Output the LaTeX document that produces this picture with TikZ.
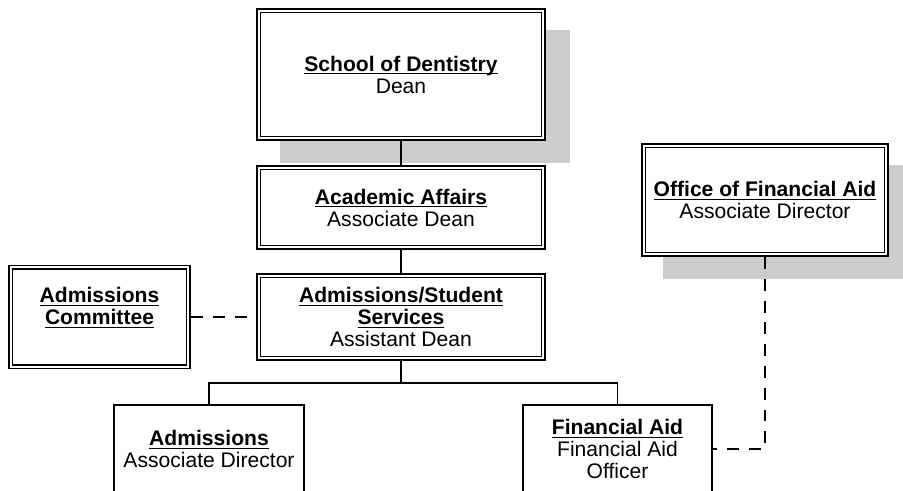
\documentclass[tikz,border=0pt]{standalone}
\usepackage{fontspec}
\setmainfont{Liberation Sans}
\usetikzlibrary{shadows}
\definecolor{shadowgray}{RGB}{204, 204, 204}
\newcommand{\orgtitle}[1]{\underline{\raisebox{0pt}[\height][0pt]{\textbf{#1}}}}

\begin{document}
\begin{tikzpicture}[
  font=\fontsize{12}{12.5}\selectfont,
  dbox/.style={draw, fill=white, line width=0.9pt, double, double distance=1.3pt, outer sep=1.55pt, align=center, inner sep=2pt},
  sbox/.style={draw, line width=1pt, fill=white, align=center, inner sep=2pt},
  boxshadow/.style={general shadow={fill=shadowgray, draw=shadowgray, line width=3.1pt, shadow xshift=#1, shadow yshift=-0.44cm}},
  link/.style={line width=0.8pt},
  dashlink/.style={line width=0.8pt, dash pattern=on 6.8pt off 5.6pt}
]
  \path[use as bounding box, clip] (0, 0) rectangle (18.06, 9.8);

  % Main chain
  \node[dbox, boxshadow=0.48cm, minimum width=5.69cm, minimum height=2.55cm] (dean) at (8.02, 8.31) {
    \orgtitle{School of Dentistry}\\Dean
  };
  \node[dbox, minimum width=5.69cm, minimum height=1.59cm] (academic) at (8.02, 5.65) {
    \orgtitle{Academic Affairs}\\Associate Dean
  };
  \node[dbox, minimum width=5.69cm, minimum height=1.65cm] (adstud) at (8.02, 3.46) {
    \orgtitle{Admissions/Student}\\\orgtitle{Services}\\Assistant Dean
  };

  % Side boxes
  \node[dbox, minimum width=3.55cm, minimum height=1.99cm] (committee) at (1.99, 3.46) {
    \orgtitle{Admissions}\\\orgtitle{Committee}\\~
  };
  \node[dbox, boxshadow=0.44cm, minimum width=4.85cm, minimum height=2.17cm] (office) at (15.30, 5.80) {
    \orgtitle{Office of Financial Aid}\\Associate Director
  };

  % Bottom row
  \node[sbox, minimum width=3.80cm, minimum height=1.77cm] (admissions) at (4.18, 0.82) {
    \orgtitle{Admissions}\\Associate Director
  };
  \node[sbox, minimum width=3.78cm, minimum height=1.77cm] (finaid) at (12.35, 0.82) {
    \orgtitle{Financial Aid}\\Financial Aid\\Officer
  };

  % Connectors
  \coordinate (bus) at (8.02, 2.14);
  \draw[link] (dean) -- (academic);
  \draw[link] (academic) -- (adstud);
  \draw[link] (adstud.south) -- (bus);
  \draw[link] (admissions.north) |- (bus) -| (finaid.north);
  \draw[dashlink] (committee) -- (adstud);
  \draw[dashlink] (office.south) |- (finaid.east);
\end{tikzpicture}
\end{document}
